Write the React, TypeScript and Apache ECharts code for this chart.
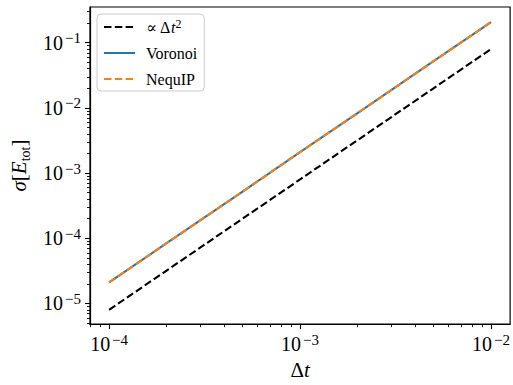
import React, { useEffect, useRef } from "react";
import * as echarts from "echarts";

const dt = [1e-4, 2e-4, 5e-4, 1e-3, 2e-3, 5e-3, 1e-2];
const propDt2 = [8e-6, 3.2e-5, 2e-4, 8e-4, 3.2e-3, 2e-2, 8e-2];
const voronoi = [2.1e-5, 8.4e-5, 5.2e-4, 2.1e-3, 8.3e-3, 5.2e-2, 2.07e-1];
const nequip = [2.1e-5, 8.4e-5, 5.2e-4, 2.1e-3, 8.3e-3, 5.2e-2, 2.07e-1];

const xMajorTicks = [1e-4, 1e-3, 1e-2];
const yMajorTicks = [1e-5, 1e-4, 1e-3, 1e-2, 1e-1];
const xMinorTicks = [8e-5, 9e-5, 2e-4, 3e-4, 4e-4, 5e-4, 6e-4, 7e-4, 8e-4, 9e-4, 2e-3, 3e-3, 4e-3, 5e-3, 6e-3, 7e-3, 8e-3, 9e-3];
const yMinorTicks = [
  5e-6, 6e-6, 7e-6, 8e-6, 9e-6,
  2e-5, 3e-5, 4e-5, 5e-5, 6e-5, 7e-5, 8e-5, 9e-5,
  2e-4, 3e-4, 4e-4, 5e-4, 6e-4, 7e-4, 8e-4, 9e-4,
  2e-3, 3e-3, 4e-3, 5e-3, 6e-3, 7e-3, 8e-3, 9e-3,
  2e-2, 3e-2, 4e-2, 5e-2, 6e-2, 7e-2, 8e-2, 9e-2,
  2e-1, 3e-1,
];

const X_MIN = 7.943e-5;
const X_MAX = 0.012589;
const Y_MIN = 4.83e-6;
const Y_MAX = 0.353;

const FONT = "'Liberation Serif', 'DejaVu Serif', serif";

const powLabel = (v: number) => {
  const e = Math.round(Math.log10(v));
  return `{b|10}{s|${e < 0 ? "\u2212" : ""}${Math.abs(e)}}`;
};

const labelRich = {
  b: { fontFamily: FONT, fontSize: 20, lineHeight: 24, color: "#000" },
  s: { fontFamily: FONT, fontSize: 15, lineHeight: 15, color: "#000", verticalAlign: "top", padding: [0, 0, 0, 2] },
};

export default function App() {
  const ref = useRef<HTMLDivElement>(null);
  useEffect(() => {
    if (!ref.current) return;
    const chart = echarts.init(ref.current, undefined, { renderer: "svg" });
    const axisCommon = {
      type: "log" as const,
      logBase: 10,
      splitLine: { show: false },
    };
    chart.setOption({
      animation: false,
      backgroundColor: "#fff",
      grid: {
        left: 90,
        right: 1,
        top: 7,
        bottom: 53,
        show: true,
        borderColor: "#000",
        borderWidth: 1.2,
        backgroundColor: "transparent",
      },
      legend: {
        left: 97,
        top: 14,
        orient: "vertical",
        padding: [4, 7, 4, 6],
        itemWidth: 31,
        itemHeight: 14,
        itemGap: 10,
        borderColor: "#cccccc",
        borderWidth: 1,
        borderRadius: 4,
        backgroundColor: "rgba(255,255,255,0.8)",
        itemStyle: { opacity: 0, color: "transparent", borderWidth: 0 },
        data: ["\u221d \u0394t\u00b2", "Voronoi", "NequIP"],
        formatter: (name: string) =>
          name.startsWith("\u221d") ? "{n|\u221d \u0394}{i|t}{s|2}" : `{n|${name}}`,
        textStyle: {
          fontFamily: FONT,
          fontSize: 16,
          color: "#000",
          padding: [0, 0, 0, 6],
          rich: {
            n: { fontFamily: FONT, fontSize: 16, color: "#000", lineHeight: 18 },
            i: { fontFamily: FONT, fontSize: 16, fontStyle: "italic", color: "#000", lineHeight: 18 },
            s: { fontFamily: FONT, fontSize: 12, color: "#000", lineHeight: 12, verticalAlign: "top" },
          },
        },
      },
      xAxis: [
        {
          ...axisCommon,
          min: X_MIN,
          max: X_MAX,
          axisLine: { show: true, onZero: false, lineStyle: { color: "#000", width: 1.2 } },
          axisTick: { show: true, length: 5, lineStyle: { color: "#000", width: 1.1 }, customValues: xMajorTicks },
          axisLabel: {
            margin: 8,
            customValues: xMajorTicks,
            formatter: powLabel,
            rich: labelRich,
          },
          name: "{n|\u0394}{i|t}",
          nameLocation: "middle",
          nameGap: 33,
          nameTextStyle: {
            rich: {
              n: { fontFamily: FONT, fontSize: 21, color: "#000" },
              i: { fontFamily: FONT, fontSize: 21, fontStyle: "italic", color: "#000" },
            },
          },
        },
        {
          ...axisCommon,
          min: X_MIN,
          max: X_MAX,
          position: "bottom",
          axisLine: { show: false, onZero: false },
          axisTick: { show: true, length: 3, lineStyle: { color: "#000", width: 0.9 }, customValues: xMinorTicks },
          axisLabel: { show: false },
        },
      ],
      yAxis: [
        {
          ...axisCommon,
          min: Y_MIN,
          max: Y_MAX,
          axisLine: { show: true, onZero: false, lineStyle: { color: "#000", width: 1.2 } },
          axisTick: { show: true, length: 5, lineStyle: { color: "#000", width: 1.1 }, customValues: yMajorTicks },
          axisLabel: {
            margin: 9,
            customValues: yMajorTicks,
            formatter: powLabel,
            rich: labelRich,
          },
          name: "{i|\u03c3}{n|[}{i|E}{sub|tot}{n|]}",
          nameLocation: "middle",
          nameGap: 53,
          nameRotate: 90,
          nameTextStyle: {
            rich: {
              n: { fontFamily: FONT, fontSize: 21, color: "#000", lineHeight: 26 },
              i: { fontFamily: FONT, fontSize: 21, fontStyle: "italic", color: "#000", lineHeight: 26 },
              sub: { fontFamily: FONT, fontSize: 14, color: "#000", lineHeight: 14, verticalAlign: "bottom" },
            },
          },
        },
        {
          ...axisCommon,
          min: Y_MIN,
          max: Y_MAX,
          position: "left",
          axisLine: { show: false, onZero: false },
          axisTick: { show: true, length: 3, lineStyle: { color: "#000", width: 0.9 }, customValues: yMinorTicks },
          axisLabel: { show: false },
        },
      ],
      series: [
        {
          name: "\u221d \u0394t\u00b2",
          type: "line",
          xAxisIndex: 0,
          yAxisIndex: 0,
          symbol: "none",
          data: dt.map((x, i) => [x, propDt2[i]]),
          lineStyle: { color: "#000", width: 2.1, type: [7.5, 3.3] },
          itemStyle: { color: "#000" },
          z: 2,
        },
        {
          name: "Voronoi",
          type: "line",
          xAxisIndex: 0,
          yAxisIndex: 0,
          symbol: "none",
          data: dt.map((x, i) => [x, voronoi[i]]),
          lineStyle: { color: "#1f77b4", width: 2.1, type: "solid" },
          itemStyle: { color: "#1f77b4" },
          z: 3,
        },
        {
          name: "NequIP",
          type: "line",
          xAxisIndex: 0,
          yAxisIndex: 0,
          symbol: "none",
          data: dt.map((x, i) => [x, nequip[i]]),
          lineStyle: { color: "#ff7f0e", width: 2.1, type: [7.5, 3.3] },
          itemStyle: { color: "#ff7f0e" },
          z: 4,
        },
      ],
    });
    return () => chart.dispose();
  }, []);
  return (
    <div
      ref={ref}
      style={{ position: "fixed", left: 0, top: 0, width: 513, height: 385, background: "#fff" }}
    />
  );
}
